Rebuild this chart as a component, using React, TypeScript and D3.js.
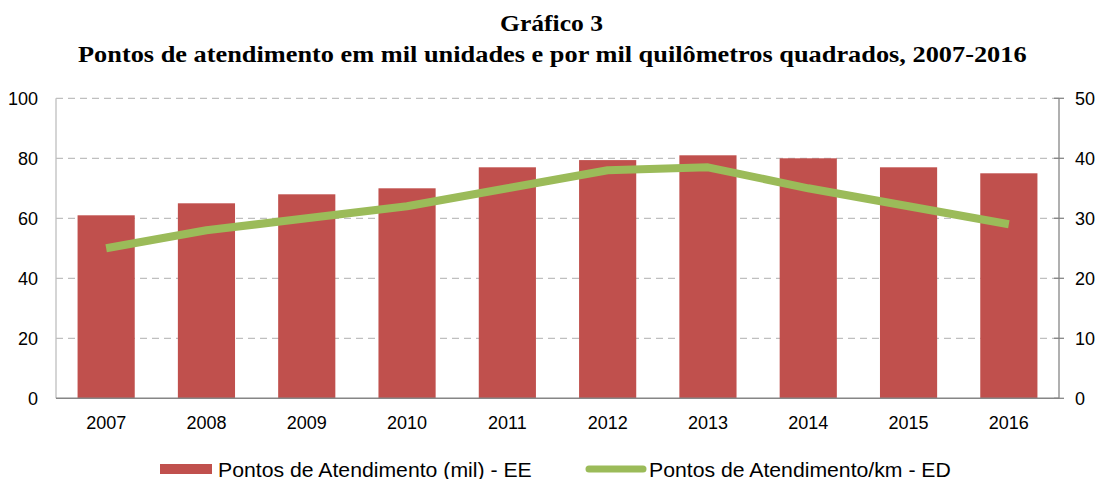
import React, { useEffect, useRef } from "react";
import * as d3 from "d3";

const years = ["2007", "2008", "2009", "2010", "2011", "2012", "2013", "2014", "2015", "2016"];
const pontosMil = [61, 65, 68, 70, 77, 79.4, 81, 80, 77, 75];
const pontosKm = [25, 28, 30, 32, 35, 38, 38.5, 35, 32, 29];
const leftTicks = [0, 20, 40, 60, 80, 100];
const rightTicks = [0, 10, 20, 30, 40, 50];
const titleLines = ["Gráfico 3", "Pontos de atendimento em mil unidades e por mil quilômetros quadrados, 2007-2016"];
const legendLabels = ["Pontos de Atendimento (mil) - EE", "Pontos de Atendimento/km - ED"];

const W = 1097;
const H = 479;
const M = { left: 56, right: 1059, top: 98.3, bottom: 398.3 };
const BAR = "#C0504D";
const LINE = "#9BBB59";

export default function App() {
  const ref = useRef<SVGSVGElement>(null);
  useEffect(() => {
    const svg = d3.select(ref.current);
    svg.selectAll("*").remove();
    const x = d3.scaleBand().domain(years).range([M.left, M.right]).paddingInner(0.43).paddingOuter(0.215);
    const yL = d3.scaleLinear().domain([0, 100]).range([M.bottom, M.top]);
    const yR = d3.scaleLinear().domain([0, 50]).range([M.bottom, M.top]);
    const font = "Liberation Sans, Arial, sans-serif";
    const serif = "Liberation Serif, Times New Roman, serif";

    // stretched text helper: fits text to a target width by horizontal scaling
    const fitText = (x0: number, y0: number, w: number, size: number, fam: string, weight: string, s: string) => {
      const t = svg.append("text").attr("x", 0).attr("y", 0)
        .attr("font-family", fam).attr("font-weight", weight).attr("font-size", size).attr("fill", "#000").text(s);
      const nat = (t.node() as SVGTextElement).getComputedTextLength();
      t.attr("transform", `translate(${x0},${y0}) scale(${w / nat},1)`);
    };

    // title
    fitText(500, 31, 103, 23, serif, "bold", titleLines[0]);
    fitText(78, 62, 949, 23, serif, "bold", titleLines[1]);

    // gridlines
    svg.append("g").selectAll("line").data(leftTicks.filter(d => d > 0)).join("line")
      .attr("x1", M.left).attr("x2", M.right)
      .attr("y1", d => yL(d)).attr("y2", d => yL(d))
      .attr("stroke", "#BFBFBF").attr("stroke-width", 1.3).attr("stroke-dasharray", "7,5");

    // left axis
    svg.append("line").attr("x1", M.left).attr("x2", M.left).attr("y1", M.top).attr("y2", M.bottom)
      .attr("stroke", "#BFBFBF").attr("stroke-width", 1.3);
    svg.append("g").selectAll("text").data(leftTicks).join("text")
      .attr("x", 38).attr("y", d => yL(d) + 6.5).attr("text-anchor", "end")
      .attr("font-family", font).attr("font-size", 18).attr("fill", "#000").text(d => d);

    // bars
    svg.append("g").selectAll("rect").data(pontosMil).join("rect")
      .attr("x", (_, i) => x(years[i])!).attr("width", x.bandwidth())
      .attr("y", d => yL(d)).attr("height", d => M.bottom - yL(d)).attr("fill", BAR);

    // bottom axis
    svg.append("line").attr("x1", M.left).attr("x2", M.right).attr("y1", M.bottom).attr("y2", M.bottom)
      .attr("stroke", "#868686").attr("stroke-width", 1.5);
    svg.append("g").selectAll("text").data(years).join("text")
      .attr("x", d => x(d)! + x.bandwidth() / 2).attr("y", 428.5).attr("text-anchor", "middle")
      .attr("font-family", font).attr("font-size", 18).attr("fill", "#000").text(d => d);

    // right axis
    svg.append("line").attr("x1", M.right).attr("x2", M.right).attr("y1", M.top).attr("y2", M.bottom)
      .attr("stroke", "#868686").attr("stroke-width", 1.3);
    svg.append("g").selectAll("line").data(rightTicks).join("line")
      .attr("x1", M.right - 5).attr("x2", M.right + 5)
      .attr("y1", d => yR(d)).attr("y2", d => yR(d)).attr("stroke", "#868686").attr("stroke-width", 1.3);
    svg.append("g").selectAll("text").data(rightTicks).join("text")
      .attr("x", 1075).attr("y", d => yR(d) + 6.5).attr("text-anchor", "start")
      .attr("font-family", font).attr("font-size", 18).attr("fill", "#000").text(d => d);

    // line
    const line = d3.line<number>().x((_, i) => x(years[i])! + x.bandwidth() / 2).y(d => yR(d));
    svg.append("path").datum(pontosKm).attr("d", line).attr("fill", "none")
      .attr("stroke", LINE).attr("stroke-width", 8).attr("stroke-linejoin", "round");

    // legend
    svg.append("rect").attr("x", 160).attr("y", 464).attr("width", 52).attr("height", 10).attr("fill", BAR);
    fitText(218, 476.5, 314, 20, font, "normal", legendLabels[0]);
    svg.append("line").attr("x1", 589).attr("x2", 643).attr("y1", 469).attr("y2", 469)
      .attr("stroke", LINE).attr("stroke-width", 7).attr("stroke-linecap", "round");
    fitText(649, 476.5, 302, 20, font, "normal", legendLabels[1]);
  }, []);
  return (
    <svg ref={ref} width={W} height={H} style={{ position: "absolute", left: 0, top: 0, background: "#fff" }} />
  );
}
